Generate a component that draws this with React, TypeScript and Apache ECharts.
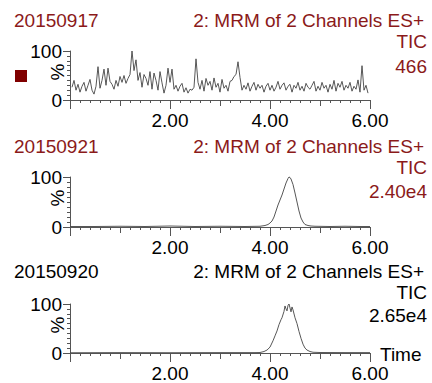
import React, { useEffect, useRef } from "react";
import * as echarts from "echarts";

// ---- Data ----
const X_TICK_LABELS = ["2.00", "4.00", "6.00"];
const SAMPLE_NAMES = ["20150917", "20150921", "20150920"];
const SCAN_TITLE = "2: MRM of 2 Channels ES+";
const TRACE_NAME = "TIC";
const INTENSITIES = ["466", "2.40e4", "2.65e4"];

// Panel 1: noisy trace sampled every 0.04 min starting at 0.04
const P1_STEP = 0.04;
const P1_VALUES = [
  26, 40, 20, 32, 16, 28, 36, 18, 30, 42,
  20, 12, 28, 68, 24, 40, 63, 30, 65, 38,
  32, 22, 40, 28, 48, 36, 50, 34, 44, 52,
  100, 60, 82, 40, 56, 26, 52, 44, 30, 58,
  22, 55, 40, 20, 58, 35, 14, 30, 65, 36,
  63, 22, 30, 18, 28, 34, 16, 25, 14, 22,
  20, 26, 84, 36, 22, 40, 18, 44, 30, 38,
  20, 45, 26, 34, 16, 42, 24, 30, 18, 38,
  40, 48, 52, 78, 46, 20, 30, 22, 35, 18,
  28, 36, 20, 32, 24, 30, 16, 28, 34, 20,
  30, 18, 26, 38, 22, 30, 35, 20, 28, 32,
  16, 30, 24, 36, 20, 28, 18, 34, 26, 22,
  30, 38, 18, 28, 20, 36, 24, 30, 16, 32,
  22, 40, 18, 34, 26, 38, 20, 30, 24, 36,
  18, 28, 22, 41, 16, 70, 20, 30, 14,
];

// Panel 2
const P2_TIMES = [0.0, 0.5, 1.0, 1.5, 2.0, 2.5, 3.0, 3.5, 3.8, 3.9, 3.96, 4.0, 4.04, 4.08, 4.12, 4.16, 4.2, 4.24, 4.28, 4.32, 4.36, 4.38, 4.4, 4.42, 4.46, 4.5, 4.54, 4.58, 4.62, 4.66, 4.7, 4.76, 4.82, 4.9, 5.2, 5.5, 5.8, 6.0];
const P2_VALUES = [1, 1, 1.5, 1, 2, 1, 1.5, 1, 1.5, 3, 5, 8, 12, 20, 32, 44, 54, 64, 76, 88, 97, 100, 99, 96, 85, 68, 50, 32, 18, 10, 5, 3, 2, 1.5, 1, 1.5, 1, 1];

// Panel 3
const P3_TIMES = [0.0, 1.0, 2.0, 3.0, 3.7, 3.8, 3.88, 3.94, 4.0, 4.06, 4.1, 4.14, 4.18, 4.22, 4.24, 4.28, 4.3, 4.32, 4.34, 4.36, 4.38, 4.4, 4.42, 4.44, 4.46, 4.5, 4.54, 4.58, 4.62, 4.66, 4.7, 4.74, 4.8, 4.86, 5.0, 5.5, 6.0];
const P3_VALUES = [0.5, 0.8, 0.6, 0.8, 0.8, 1, 3, 6, 12, 25, 35, 45, 58, 68, 72, 85, 96, 90, 86, 97, 100, 92, 84, 94, 88, 72, 60, 44, 30, 18, 10, 6, 3, 1.5, 1, 0.8, 0.8];

const RED = "#8B1A1A";
const FONT = "Liberation Sans, Arial, sans-serif";
const FS = 19;

export default function App() {
  const ref = useRef<HTMLDivElement>(null);

  useEffect(() => {
    if (!ref.current) return;
    const chart = echarts.init(ref.current, undefined, { renderer: "svg" });

    const p1 = P1_VALUES.map((v, i) => [P1_STEP * (i + 1), v]);
    const p2 = P2_TIMES.map((t, i) => [t, P2_VALUES[i]]);
    const p3 = P3_TIMES.map((t, i) => [t, P3_VALUES[i]]);
    const datas = [p1, p2, p3];

    const grids = [
      { left: 70, width: 300, top: 51, height: 49 },
      { left: 70, width: 300, top: 177, height: 50 },
      { left: 70, width: 300, top: 304, height: 49 },
    ];

    const axisColor = "#555";
    const xAxes: any[] = [];
    const yAxes: any[] = [];
    grids.forEach((_, g) => {
      xAxes.push({
        type: "value",
        gridIndex: g,
        min: 0,
        max: 6,
        interval: 1,
        axisLine: { show: true, lineStyle: { color: axisColor, width: 1 } },
        axisTick: { show: true, length: 6, lineStyle: { color: axisColor } },
        minorTick: { show: true, splitNumber: 5, length: 3, lineStyle: { color: axisColor } },
        splitLine: { show: false },
        axisLabel: {
          show: true,
          margin: 11,
          color: "#000",
          fontSize: FS,
          fontFamily: FONT,
          formatter: (v: number) => {
            const idx = Math.round(v) / 2 - 1;
            return Math.round(v) % 2 === 0 && v > 0 ? X_TICK_LABELS[idx] : "";
          },
        },
      });
      xAxes.push({
        type: "value",
        gridIndex: g,
        position: "bottom",
        min: 0,
        max: 6,
        interval: 2,
        axisLine: { show: false },
        axisTick: { show: true, length: 9, lineStyle: { color: axisColor } },
        splitLine: { show: false },
        axisLabel: { show: false },
      });
      yAxes.push({
        type: "value",
        gridIndex: g,
        min: 0,
        max: 100,
        interval: 100,
        axisLine: { show: true, lineStyle: { color: axisColor, width: 1 } },
        axisTick: { show: true, length: 7, lineStyle: { color: axisColor } },
        minorTick: { show: true, splitNumber: 10, length: 3, lineStyle: { color: axisColor } },
        splitLine: { show: false },
        axisLabel: { margin: 8, color: "#000", fontSize: FS, fontFamily: FONT },
      });
    });

    const series = datas.map((d, g) => ({
      type: "line",
      xAxisIndex: g * 2,
      yAxisIndex: g,
      data: d,
      showSymbol: false,
      lineStyle: { color: "#444", width: 0.9 },
      clip: false,
    }));

    const textStyle = (color: string, align: string) => ({
      fill: color,
      font: `${FS}px ${FONT}`,
      textAlign: align,
      textVerticalAlign: "middle",
    });

    const panelTitleY = [20.5, 146.5, 271.5];
    const ticY = [41.5, 167, 292];
    const intY = [66.5, 191, 315];
    const pctY = [72, 198, 325];
    const colors = [RED, RED, "#000"];

    const graphics: any[] = [];
    for (let g = 0; g < 3; g++) {
      graphics.push({ type: "text", x: 14, y: panelTitleY[g], style: { text: SAMPLE_NAMES[g], ...textStyle(colors[g], "left") } });
      graphics.push({ type: "text", x: 424, y: panelTitleY[g], style: { text: SCAN_TITLE, ...textStyle(colors[g], "right") } });
      graphics.push({ type: "text", x: 427, y: ticY[g], style: { text: TRACE_NAME, ...textStyle(colors[g], "right") } });
      graphics.push({ type: "text", x: 427, y: intY[g], style: { text: INTENSITIES[g], ...textStyle(colors[g], "right") } });
      graphics.push({
        type: "text",
        x: 57,
        y: pctY[g],
        rotation: Math.PI / 2,
        style: { text: "%", ...textStyle("#000", "center") },
      });
    }
    graphics.push({ type: "text", x: 380, y: 354.5, style: { text: "Time", ...textStyle("#000", "left") } });
    graphics.push({ type: "rect", shape: { x: 15, y: 70, width: 12, height: 12 }, style: { fill: "#800000" } });

    chart.setOption({
      animation: false,
      backgroundColor: "#fff",
      grid: grids,
      xAxis: xAxes,
      yAxis: yAxes,
      series,
      graphic: graphics,
    });

    return () => chart.dispose();
  }, []);

  return (
    <div
      ref={ref}
      style={{ position: "fixed", left: 0, top: 0, width: 432, height: 383 }}
    />
  );
}
